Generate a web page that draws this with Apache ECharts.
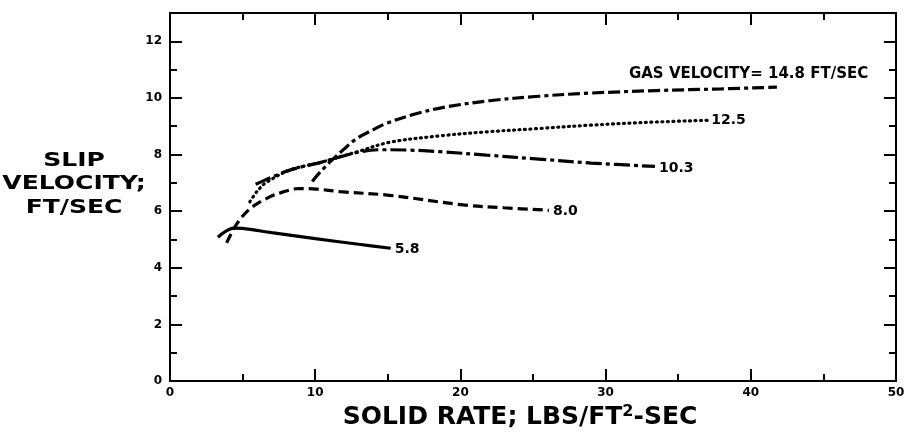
<!DOCTYPE html>
<html><head><meta charset="utf-8">
<script src="https://cdn.jsdelivr.net/npm/echarts@6/dist/echarts.min.js"></script>
<style>html,body{margin:0;padding:0;background:#fff}#c{width:906px;height:433px}</style>
</head><body><div id="c"></div>
<script>
// Axis settings
const xMin = 0, xMax = 50, xStep = 10;
const yMin = 0, yMax = 13, yStep = 2;

// Curve labels (gas velocity, ft/sec)
const labels = ['5.8', '8.0', '10.3', '12.5', 'GAS VELOCITY= 14.8 FT/SEC'];

// Data: [solid rate, slip velocity]
const gas58 = [[3.3,5.08],[3.8,5.28],[4.4,5.4],[5.0,5.39],[7.0,5.24],[10.0,5.03],[13.0,4.83],[15.2,4.69]];
const gas80 = [[3.9,4.88],[4.6,5.55],[5.5,6.08],[6.7,6.46],[7.8,6.68],[8.9,6.8],[10.1,6.78],[11.7,6.69],[15.1,6.56],[20.2,6.22],[23.0,6.12],[26.1,6.03]];
const gas103 = [[5.9,6.95],[7.0,7.2],[8.25,7.45],[10.5,7.74],[12.85,8.07],[14.5,8.17],[16.3,8.16],[18.6,8.1],[21.8,7.98],[25.4,7.84],[29.0,7.7],[33.4,7.58]];
const gas125 = [[5.5,6.33],[6.0,6.7],[6.6,7.0],[8.25,7.45],[10.5,7.74],[12.85,8.09],[15.1,8.43],[18.6,8.66],[21.8,8.8],[25.4,8.92],[29.0,9.04],[33.5,9.15],[37.0,9.21]];
const gas148 = [[9.8,7.05],[10.2,7.3],[11.0,7.73],[12.0,8.2],[12.85,8.56],[14.0,8.88],[14.9,9.1],[17.0,9.45],[19.0,9.68],[22.0,9.9],[25.4,10.06],[28.9,10.17],[33.5,10.26],[38.0,10.32],[41.8,10.38]];

const FONT = 'DejaVu Sans';
const chart = echarts.init(document.getElementById('c'), null, {renderer: 'canvas'});

function axisCommon(showLabel) {
  return {
    axisLine: {show: true, onZero: false, lineStyle: {color: '#000', width: 2}},
    axisTick: {show: true, inside: true, length: 12, lineStyle: {color: '#000', width: 2}},
    minorTick: {show: true, splitNumber: 2, length: 7, lineStyle: {color: '#000', width: 2}},
    splitLine: {show: false},
    minorSplitLine: {show: false},
    axisLabel: {show: showLabel, color: '#000', fontFamily: FONT, fontWeight: 'bold', fontSize: 12}
  };
}

function lineSeries(name, data, type, label, labelOpt) {
  return {
    type: 'line', name: name, data: data, symbol: 'none', smooth: 0.35,
    lineStyle: {color: '#000', width: 3.2, type: type, cap: (Array.isArray(type) && type[0] <= 1 ? 'round' : 'butt')},
    endLabel: Object.assign({
      show: true, formatter: label, color: '#000', fontFamily: FONT, fontWeight: 'bold', fontSize: 14, distance: 4
    }, labelOpt || {}),
    animation: false, silent: true
  };
}

const option = {
  animation: false,
  backgroundColor: '#fff',
  grid: {left: 170, right: 10, top: 13, bottom: 52, containLabel: false, outerBoundsMode: 'none'},
  xAxis: [
    Object.assign({type: 'value', min: xMin, max: xMax, interval: xStep, position: 'bottom',
      name: 'SOLID RATE; LBS/FT{sup|2}-SEC', nameLocation: 'middle', nameGap: 22,
      nameTextStyle: {color: '#000', fontFamily: FONT, fontWeight: 'bold', fontSize: 25, padding: [0, 26, 0, 0],
        rich: {sup: {fontSize: 16, fontWeight: 'bold', fontFamily: FONT, color: '#000', verticalAlign: 'top', padding: [0,0,12,0]}}}
    }, axisCommon(true), {axisLabel: {show: true, color: '#000', fontFamily: FONT, fontWeight: 'bold', fontSize: 12, margin: 6}}),
    Object.assign({type: 'value', min: xMin, max: xMax, interval: xStep, position: 'top'}, axisCommon(false))
  ],
  yAxis: [
    Object.assign({type: 'value', min: yMin, max: yMax, interval: yStep, position: 'left'}, axisCommon(true),
      {axisLabel: {show: true, color: '#000', fontFamily: FONT, fontWeight: 'bold', fontSize: 12, margin: 8,
        formatter: function (v) { return v % 2 === 0 && v <= 12 ? String(v) : ''; }}}),
    Object.assign({type: 'value', min: yMin, max: yMax, interval: yStep, position: 'right'}, axisCommon(false))
  ],
  graphic: [{
    type: 'text', x: 74, y: 149, scaleX: 1.25,
    style: {text: 'SLIP\nVELOCITY;\nFT/SEC', fill: '#000', font: 'bold 20px "DejaVu Sans"', textAlign: 'center', textVerticalAlign: 'top', lineHeight: 23.5}
  }],
  series: [
    lineSeries('5.8', gas58, 'solid', labels[0], {offset: [0, 1]}),
    lineSeries('8.0', gas80, [10, 5], labels[1], {offset: [0, 1]}),
    lineSeries('10.3', gas103, [16, 4, 4, 4], labels[2], {offset: [0, 2]}),
    lineSeries('12.5', gas125, [1, 4.5], labels[3], {offset: [0, 0]}),
    lineSeries('14.8', gas148, [12, 4, 4, 4, 12, 4], labels[4], {distance: 0, offset: [-148, -13], fontSize: 15})
  ]
};
chart.setOption(option);
</script>
</body></html>
